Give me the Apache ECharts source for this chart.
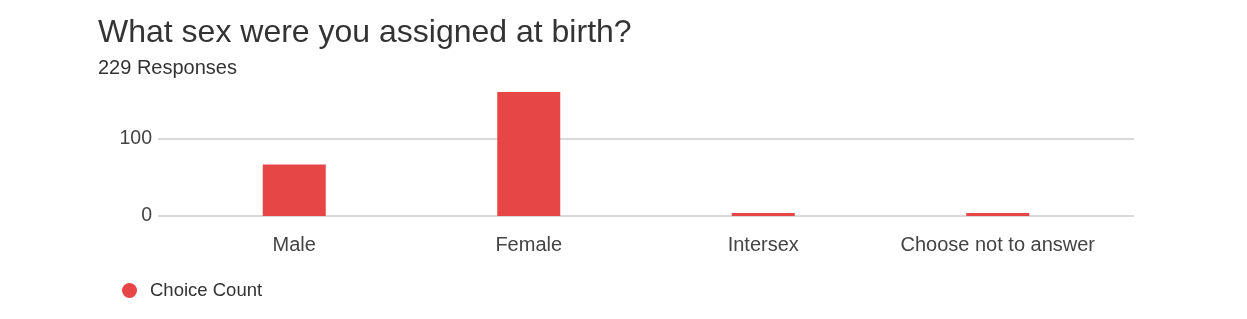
<!DOCTYPE html>
<html>
<head>
<meta charset="utf-8">
<script src="https://cdn.jsdelivr.net/npm/echarts@6/dist/echarts.min.js"></script>
<style>
html,body{margin:0;padding:0;background:#fff;}
#c{width:1247px;height:319px;}
</style>
</head>
<body>
<div id="c"></div>
<script>
const titleText = "What sex were you assigned at birth?";
const subtitleText = "229 Responses";
const categories = ["Male", "Female", "Intersex", "Choose not to answer"];
const seriesName = "Choice Count";
const choiceCount = [67, 161, 4, 4];
const yTicks = [0, 100];

const chart = echarts.init(document.getElementById('c'), null, {renderer: 'canvas'});
const font = "'Liberation Sans', Arial, sans-serif";
const option = {
  animation: false,
  backgroundColor: '#ffffff',
  title: {
    text: titleText,
    subtext: subtitleText,
    left: 93, top: 12,
    itemGap: 9,
    textStyle: {fontFamily: font, fontSize: 32, fontWeight: 'normal', color: '#333333'},
    subtextStyle: {fontFamily: font, fontSize: 20, color: '#333333'}
  },
  legend: {
    data: [seriesName],
    left: 117, top: 276,
    icon: 'circle',
    itemWidth: 15, itemHeight: 15,
    itemGap: 10,
    textStyle: {fontFamily: font, fontSize: 18.5, color: '#333333', padding: [0, 0, 0, 8]}
  },
  grid: [
    {left: 158, right: 113, top: 139, bottom: 103},
    {left: 177, right: 132, top: 139, bottom: 103}
  ],
  xAxis: [
    {gridIndex: 0, type: 'value', min: 0, max: 1, show: false},
    {gridIndex: 1, type: 'category', data: categories,
     axisLine: {show: false}, axisTick: {show: false},
     axisLabel: {interval: 0, fontFamily: font, fontSize: 20, color: '#444444', margin: 19}}
  ],
  yAxis: [
    {gridIndex: 0, type: 'value', min: yTicks[0], max: yTicks[yTicks.length-1], interval: yTicks[1]-yTicks[0],
     axisLine: {show: false}, axisTick: {show: false},
     axisLabel: {fontFamily: font, fontSize: 19.5, color: '#444444', margin: 6},
     splitLine: {lineStyle: {color: '#d9d9d9', width: 2}}},
    {gridIndex: 1, type: 'value', min: yTicks[0], max: yTicks[yTicks.length-1], interval: yTicks[1]-yTicks[0],
     show: false, splitLine: {show: false}}
  ],
  series: [{
    name: seriesName,
    type: 'bar',
    xAxisIndex: 1, yAxisIndex: 1,
    data: choiceCount,
    barWidth: 63,
    clip: false,
    itemStyle: {color: '#e64646'}
  }]
};
chart.setOption(option);
</script>
</body>
</html>
